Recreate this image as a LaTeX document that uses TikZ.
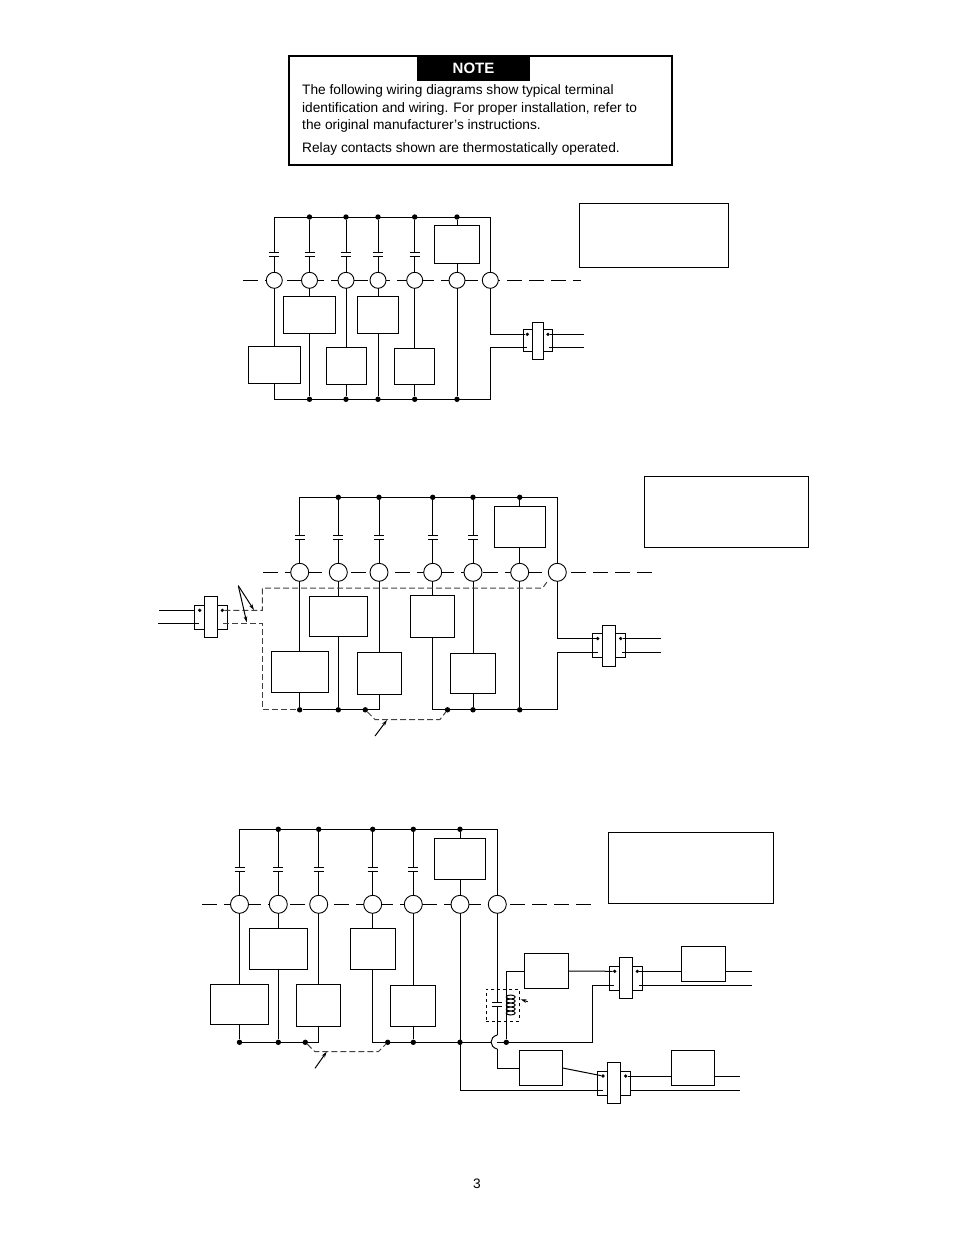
\documentclass[tikz,border=0pt]{standalone}
\usepackage{fontspec}
\setmainfont{Liberation Sans}
\usetikzlibrary{arrows.meta}
\tikzset{
  wire/.style={line width=1pt},
  dashwire/.style={line width=1pt, black!75, dash pattern=on 6pt off 3pt},
  rowline/.style={line width=1pt, dash pattern=on 15pt off 7pt},
  term/.style={circle, draw, line width=.9pt, fill=white, inner sep=0pt, outer sep=0pt},
  unit/.style={draw, line width=1pt, fill=white, inner sep=0pt, outer sep=0pt},
  textbox/.style={draw, line width=.8pt, inner sep=0pt, outer sep=0pt},
  jdot/.style={circle, fill, inner sep=0pt, minimum size=5.4pt},
  pdot/.style={circle, fill, inner sep=0pt, minimum size=3.6pt},
  capac/.style={inner sep=0pt, outer sep=0pt, minimum width=10pt, minimum height=4.3pt,
    append after command={(\tikzlastnode.north west) edge[wire] (\tikzlastnode.north east)
      (\tikzlastnode.south west) edge[wire] (\tikzlastnode.south east)}},
  ptr/.style={line width=1pt, -{Stealth[length=6pt,width=3.6pt]}},
}
\begin{document}
\begin{tikzpicture}[x=1pt,y=-1pt]
\useasboundingbox (0,0) rectangle (954,1235);

\node[draw, line width=1.5pt, minimum width=383pt, minimum height=109pt, inner sep=0pt, outer sep=0pt] (notebox) at (480.4,110.5) {};
\node[fill=black, text=white, font=\fontsize{15}{15}\selectfont\bfseries, minimum width=113pt, minimum height=25pt, inner sep=0pt, outer sep=0pt] (notehead) at (473.5,68.5) {NOTE};
\node[anchor=north west, align=left, inner sep=0pt, font=\fontsize{13.7}{17.5}\selectfont] (notetext) at (302,84.5) {The following wiring diagrams show typical terminal\\identification and wiring. For proper installation, refer to\\the original manufacturer’s instructions.};
\node[anchor=north west, inner sep=0pt, font=\fontsize{13.7}{17.5}\selectfont] (notelast) at (302,142.5) {Relay contacts shown are thermostatically operated.};
\node[font=\fontsize{13.7}{15}\selectfont] (pagenum) at (477,1184) {3};

\node[textbox, minimum width=149pt, minimum height=64pt] (txta) at (654,235.5) {};
\node[textbox, minimum width=164pt, minimum height=71pt] (txtb) at (726.5,512) {};
\node[textbox, minimum width=165pt, minimum height=71pt] (txtc) at (691,868) {};

\coordinate (rowa0) at (243,280.3);
\coordinate (rowa1) at (581,280.3);
\draw[rowline] (rowa0) -- (rowa1);
\node[term, minimum size=16pt] (ta1) at (274.3,280.3) {};
\node[term, minimum size=16pt] (ta2) at (309.5,280.3) {};
\node[term, minimum size=16pt] (ta3) at (346,280.3) {};
\node[term, minimum size=16pt] (ta4) at (378,280.3) {};
\node[term, minimum size=16pt] (ta5) at (414.7,280.3) {};
\node[term, minimum size=16pt] (ta6) at (457,280.3) {};
\node[term, minimum size=16pt] (ta7) at (490.3,280.3) {};
\node[capac] (capa1) at (274.3,254.3) {};
\node[capac] (capa2) at (309.5,254.3) {};
\node[capac] (capa3) at (346,254.3) {};
\node[capac] (capa4) at (378,254.3) {};
\node[capac] (capa5) at (414.7,254.3) {};
\node[unit, minimum width=45pt, minimum height=38pt] (heata) at (457,244.3) {};
\node[unit, minimum width=52pt, minimum height=37pt] (boxa1) at (274.3,364.8) {};
\node[unit, minimum width=52pt, minimum height=37pt] (boxa2) at (309.5,314.8) {};
\node[unit, minimum width=40pt, minimum height=37pt] (boxa3) at (346,365.8) {};
\node[unit, minimum width=41pt, minimum height=37pt] (boxa4) at (378,314.8) {};
\node[unit, minimum width=40pt, minimum height=36pt] (boxa5) at (414.7,366.3) {};
\node[jdot] (topa2) at (309.5,217) {};
\node[jdot] (topa3) at (346,217) {};
\node[jdot] (topa4) at (378,217) {};
\node[jdot] (topa5) at (414.7,217) {};
\node[jdot] (topa6) at (457,217) {};
\node[jdot] (bota2) at (309.5,399.3) {};
\node[jdot] (bota3) at (346,399.3) {};
\node[jdot] (bota4) at (378,399.3) {};
\node[jdot] (bota5) at (414.7,399.3) {};
\node[jdot] (bota6) at (457,399.3) {};
\coordinate (cora) at (490.3,217);
\coordinate (corb) at (490.3,399.3);
\node[unit, minimum width=9pt, minimum height=22.4pt] (tabla) at (528,340.5) {};
\node[unit, minimum width=9pt, minimum height=22.4pt] (tabra) at (548.2,340.5) {};
\node[unit, minimum width=11.4pt, minimum height=37pt] (pluga) at (538,340.8) {};
\node[pdot] (dotla) at (527.3,334.3) {};
\node[pdot] (dotra) at (548,334.3) {};
\coordinate (lowla) at (527.3,347);
\coordinate (lowra) at (549,347);
\coordinate (enda1) at (584,334.3);
\coordinate (enda2) at (584,347);
\draw[wire] (capa1.north) |- (cora) -- (ta7.north);
\draw[wire] (capa1.south) -- (ta1.north);
\draw[wire] (topa2) -- (capa2.north) (capa2.south) -- (ta2.north);
\draw[wire] (topa3) -- (capa3.north) (capa3.south) -- (ta3.north);
\draw[wire] (topa4) -- (capa4.north) (capa4.south) -- (ta4.north);
\draw[wire] (topa5) -- (capa5.north) (capa5.south) -- (ta5.north);
\draw[wire] (topa6) -- (heata.north) (heata.south) -- (ta6.north);
\draw[wire] (ta1.south) -- (boxa1.north);
\draw[wire] (ta2.south) -- (boxa2.north) (boxa2.south) -- (bota2);
\draw[wire] (ta3.south) -- (boxa3.north) (boxa3.south) -- (bota3);
\draw[wire] (ta4.south) -- (boxa4.north) (boxa4.south) -- (bota4);
\draw[wire] (ta5.south) -- (boxa5.north) (boxa5.south) -- (bota5);
\draw[wire] (ta6.south) -- (bota6);
\draw[wire] (boxa1.south) |- (corb) |- (lowla);
\draw[wire] (ta7.south) |- (dotla);
\draw[wire] (dotra) -- (enda1);
\draw[wire] (lowra) -- (enda2);

\coordinate (rowb0) at (263,572.3);
\coordinate (rowb1) at (656,572.3);
\draw[rowline] (rowb0) -- (rowb1);
\node[term, minimum size=18pt] (tb1) at (299.7,572.3) {};
\node[term, minimum size=18pt] (tb2) at (338.3,572.3) {};
\node[term, minimum size=18pt] (tb3) at (379,572.3) {};
\node[term, minimum size=18pt] (tb4) at (432.7,572.3) {};
\node[term, minimum size=18pt] (tb5) at (473,572.3) {};
\node[term, minimum size=18pt] (tb6) at (519.7,572.3) {};
\node[term, minimum size=18pt] (tb7) at (557.3,572.3) {};
\node[capac] (capb1) at (299.7,537.3) {};
\node[capac] (capb2) at (338.3,537.3) {};
\node[capac] (capb3) at (379,537.3) {};
\node[capac] (capb4) at (432.7,537.3) {};
\node[capac] (capb5) at (473,537.3) {};
\node[unit, minimum width=51.4pt, minimum height=41pt] (heatb) at (519.7,526.8) {};
\node[unit, minimum width=57pt, minimum height=41pt] (boxb1) at (299.7,671.8) {};
\node[unit, minimum width=57.4pt, minimum height=40pt] (boxb2) at (338.3,616.3) {};
\node[unit, minimum width=44pt, minimum height=42pt] (boxb3) at (379,673.3) {};
\node[unit, minimum width=44pt, minimum height=42pt] (boxb4) at (432.7,616.3) {};
\node[unit, minimum width=45pt, minimum height=40pt] (boxb5) at (473,673.3) {};
\node[jdot] (topb2) at (338.3,497.3) {};
\node[jdot] (topb3) at (379,497.3) {};
\node[jdot] (topb4) at (432.7,497.3) {};
\node[jdot] (topb5) at (473,497.3) {};
\node[jdot] (topb6) at (519.7,497.3) {};
\node[jdot] (botb1) at (299.7,709.8) {};
\node[jdot] (botb2) at (338.3,709.8) {};
\node[jdot] (botb3) at (365.3,709.8) {};
\node[jdot] (botb4) at (447.5,709.8) {};
\node[jdot] (botb5) at (473,709.8) {};
\node[jdot] (botb6) at (519.7,709.8) {};
\coordinate (corc) at (557.3,497.3);
\coordinate (cord) at (557.3,709.8);
\coordinate (dasha) at (375,719.5);
\coordinate (dashb) at (440,719.5);
\coordinate (arra0) at (375,736);
\coordinate (arra1) at (387,720);
\node[unit, minimum width=10pt, minimum height=24pt] (tablb) at (597,645.3) {};
\node[unit, minimum width=10pt, minimum height=24pt] (tabrb) at (620.7,645.3) {};
\node[unit, minimum width=13.4pt, minimum height=41pt] (plugb) at (609,645.8) {};
\node[pdot] (dotlb) at (597.7,638.5) {};
\node[pdot] (dotrb) at (620.7,638.5) {};
\coordinate (lowlb) at (597.7,652.3);
\coordinate (lowrb) at (622.3,652.3);
\coordinate (endb1) at (661,638.5);
\coordinate (endb2) at (661,652.3);
\node[unit, minimum width=10pt, minimum height=24pt] (tablc) at (199.3,617.3) {};
\node[unit, minimum width=10pt, minimum height=24pt] (tabrc) at (222.7,617.3) {};
\node[unit, minimum width=13.4pt, minimum height=41pt] (plugc) at (211,616.8) {};
\node[pdot] (dotlc) at (199.7,610.3) {};
\node[pdot] (dotrc) at (222.3,610.3) {};
\coordinate (lowlc) at (199.3,623.5);
\coordinate (lowrc) at (223,623.5);
\coordinate (endc1) at (159,610.3);
\coordinate (endc2) at (158,623.5);
\coordinate (dashc) at (262.3,610.3);
\coordinate (dashd) at (262.3,623.5);
\coordinate (dashe) at (262.3,588);
\coordinate (dashf) at (542.7,588);
\coordinate (dashg) at (548.3,580);
\coordinate (arrb0) at (238.3,585.7);
\coordinate (arrb1) at (254,610);
\coordinate (arrb2) at (246.7,622.3);
\draw[wire] (capb1.north) |- (corc) -- (tb7.north);
\draw[wire] (capb1.south) -- (tb1.north);
\draw[wire] (topb2) -- (capb2.north) (capb2.south) -- (tb2.north);
\draw[wire] (topb3) -- (capb3.north) (capb3.south) -- (tb3.north);
\draw[wire] (topb4) -- (capb4.north) (capb4.south) -- (tb4.north);
\draw[wire] (topb5) -- (capb5.north) (capb5.south) -- (tb5.north);
\draw[wire] (topb6) -- (heatb.north) (heatb.south) -- (tb6.north);
\draw[wire] (tb1.south) -- (boxb1.north) (boxb1.south) -- (botb1);
\draw[wire] (tb2.south) -- (boxb2.north) (boxb2.south) -- (botb2);
\draw[wire] (tb3.south) -- (boxb3.north);
\draw[wire] (tb4.south) -- (boxb4.north);
\draw[wire] (tb5.south) -- (boxb5.north) (boxb5.south) -- (botb5);
\draw[wire] (tb6.south) -- (botb6);
\draw[wire] (boxb3.south) |- (botb1);
\draw[wire] (boxb4.south) |- (cord) |- (lowlb);
\draw[wire] (tb7.south) |- (dotlb);
\draw[wire] (dotrb) -- (endb1);
\draw[wire] (lowrb) -- (endb2);
\draw[wire] (endc1) -- (tablc.west |- endc1);
\draw[wire] (endc2) -- (lowlc);
\draw[dashwire] (botb3) -- (dasha) -- (dashb) -- (botb4);
\draw[dashwire] (dotrc) -- (dashc) -- (dashe) -- (dashf) -- (dashg);
\draw[dashwire] (lowrc) -- (dashd) |- (botb1);
\draw[ptr] (arra0) -- (arra1);
\draw[ptr] (arrb0) -- (arrb1);
\draw[ptr] (arrb0) -- (arrb2);

\coordinate (rowc0) at (202,904.3);
\coordinate (rowc1) at (596,904.3);
\draw[rowline] (rowc0) -- (rowc1);
\node[term, minimum size=18pt] (tc1) at (239.5,904.3) {};
\node[term, minimum size=18pt] (tc2) at (278.3,904.3) {};
\node[term, minimum size=18pt] (tc3) at (318.7,904.3) {};
\node[term, minimum size=18pt] (tc4) at (372.7,904.3) {};
\node[term, minimum size=18pt] (tc5) at (413.3,904.3) {};
\node[term, minimum size=18pt] (tc6) at (460,904.3) {};
\node[term, minimum size=18pt] (tc7) at (497.3,904.3) {};
\node[capac] (capc1) at (239.5,869.7) {};
\node[capac] (capc2) at (278.3,869.7) {};
\node[capac] (capc3) at (318.7,869.7) {};
\node[capac] (capc4) at (372.7,869.7) {};
\node[capac] (capc5) at (413.3,869.7) {};
\node[capac] (capr) at (497.3,1004.3) {};
\node[unit, minimum width=51.4pt, minimum height=41pt] (heatc) at (460,858.8) {};
\node[unit, minimum width=58.4pt, minimum height=40pt] (boxc1) at (239.5,1004.3) {};
\node[unit, minimum width=57.4pt, minimum height=41pt] (boxc2) at (278.3,948.8) {};
\node[unit, minimum width=44.4pt, minimum height=42pt] (boxc3) at (318.7,1005.3) {};
\node[unit, minimum width=45.4pt, minimum height=41pt] (boxc4) at (372.7,948.8) {};
\node[unit, minimum width=45pt, minimum height=41pt] (boxc5) at (413.3,1005.8) {};
\node[jdot] (topc2) at (278.3,829.3) {};
\node[jdot] (topc3) at (318.7,829.3) {};
\node[jdot] (topc4) at (372.7,829.3) {};
\node[jdot] (topc5) at (413.3,829.3) {};
\node[jdot] (topc6) at (460,829.3) {};
\node[jdot] (botc1) at (239.5,1042.3) {};
\node[jdot] (botc2) at (278.3,1042.3) {};
\node[jdot] (botc3) at (305.3,1042.3) {};
\node[jdot] (botc4) at (387.7,1042.3) {};
\node[jdot] (botc5) at (413.3,1042.3) {};
\node[jdot] (botc6) at (460,1042.3) {};
\node[jdot] (botc7) at (506.3,1042.3) {};
\coordinate (core) at (497.3,829.3);
\coordinate (bmpa) at (497.3,1035);
\coordinate (bmpb) at (497.3,1049);
\coordinate (bmpc) at (491,1042.3);
\coordinate (bmpd) at (497.3,1042.3);
\coordinate (corf) at (592.7,1042.3);
\coordinate (dashh) at (315,1051.7);
\coordinate (dashi) at (378.3,1051.7);
\coordinate (arrc0) at (315,1068.3);
\coordinate (arrc1) at (326.7,1051.7);
\coordinate (arrd0) at (527.7,1001.7);
\coordinate (arrd1) at (520.7,999.3);
\node[draw, dashed, line width=1pt, minimum width=33pt, minimum height=32pt, inner sep=0pt, outer sep=0pt] (relay) at (502.8,1005.3) {};
\node[unit, minimum width=44.4pt, minimum height=35.4pt] (boxf) at (546.5,971) {};
\node[unit, minimum width=44.4pt, minimum height=35.4pt] (boxg) at (703.5,964) {};
\node[unit, minimum width=43.4pt, minimum height=35.4pt] (boxh) at (541,1068) {};
\node[unit, minimum width=43pt, minimum height=35.4pt] (boxi) at (692.8,1068) {};
\node[unit, minimum width=10pt, minimum height=24pt] (tabld) at (614.3,978.3) {};
\node[unit, minimum width=10pt, minimum height=24pt] (tabrd) at (637.7,978.3) {};
\node[unit, minimum width=13.4pt, minimum height=41pt] (plugd) at (626,977.8) {};
\node[pdot] (dotld) at (614.7,971.3) {};
\node[pdot] (dotrd) at (637.3,971.3) {};
\coordinate (lowld) at (614.3,985.3);
\coordinate (lowrd) at (639,985.3);
\coordinate (endd1) at (752,971.3);
\coordinate (endd2) at (752,985.3);
\coordinate (cncd) at (506.3,971.3);
\node[unit, minimum width=10pt, minimum height=24pt] (table) at (602.3,1083.3) {};
\node[unit, minimum width=10pt, minimum height=24pt] (tabre) at (625.7,1083.3) {};
\node[unit, minimum width=13.4pt, minimum height=41pt] (pluge) at (614,1082.8) {};
\node[pdot] (dotle) at (603,1076) {};
\node[pdot] (dotre) at (625.7,1076) {};
\coordinate (lowle) at (603,1090.3);
\coordinate (lowre) at (630.7,1090.3);
\coordinate (ende1) at (740,1076);
\coordinate (ende2) at (740,1090.3);
\draw[wire] (capc1.north) |- (core) -- (tc7.north);
\draw[wire] (capc1.south) -- (tc1.north);
\draw[wire] (topc2) -- (capc2.north) (capc2.south) -- (tc2.north);
\draw[wire] (topc3) -- (capc3.north) (capc3.south) -- (tc3.north);
\draw[wire] (topc4) -- (capc4.north) (capc4.south) -- (tc4.north);
\draw[wire] (topc5) -- (capc5.north) (capc5.south) -- (tc5.north);
\draw[wire] (topc6) -- (heatc.north) (heatc.south) -- (tc6.north);
\draw[wire] (tc1.south) -- (boxc1.north) (boxc1.south) -- (botc1);
\draw[wire] (tc2.south) -- (boxc2.north) (boxc2.south) -- (botc2);
\draw[wire] (tc3.south) -- (boxc3.north);
\draw[wire] (tc4.south) -- (boxc4.north);
\draw[wire] (tc5.south) -- (boxc5.north) (boxc5.south) -- (botc5);
\draw[wire] (boxc3.south) |- (botc1);
\draw[wire] (boxc4.south) |- (bmpc);
\draw[wire] (tc7.south) -- (capr.north) (capr.south) -- (bmpa);
\draw[wire] (bmpa) .. controls (489,1037) and (489,1047) .. (bmpb);
\draw[wire] (bmpb) |- (boxh.west);
\draw[wire] (bmpd) -- (corf) |- (lowld);
\draw[wire] (botc7) |- (boxf.west);
\draw[wire] (boxf.east) -- (dotld);
\draw[wire] (dotrd) -- (boxg.west |- dotrd) (boxg.east |- dotrd) -- (endd1);
\draw[wire] (lowrd) -- (endd2);
\draw[wire] (tc6.south) |- (lowle);
\draw[wire] (boxh.east) -- (dotle);
\draw[wire] (dotre) -- (boxi.west |- dotre) (boxi.east |- dotre) -- (ende1);
\draw[wire] (lowre) -- (ende2);
\draw[wire, fill=white] (510.7,997) ellipse (4.5 and 2) (510.7,1001) ellipse (4.5 and 2) (510.7,1005) ellipse (4.5 and 2) (510.7,1009) ellipse (4.5 and 2) (510.7,1013) ellipse (4.5 and 2);
\draw[dashwire] (botc3) -- (dashh) -- (dashi) -- (botc4);
\draw[ptr] (arrc0) -- (arrc1);
\draw[ptr] (arrd0) -- (arrd1);
\end{tikzpicture}
\end{document}
